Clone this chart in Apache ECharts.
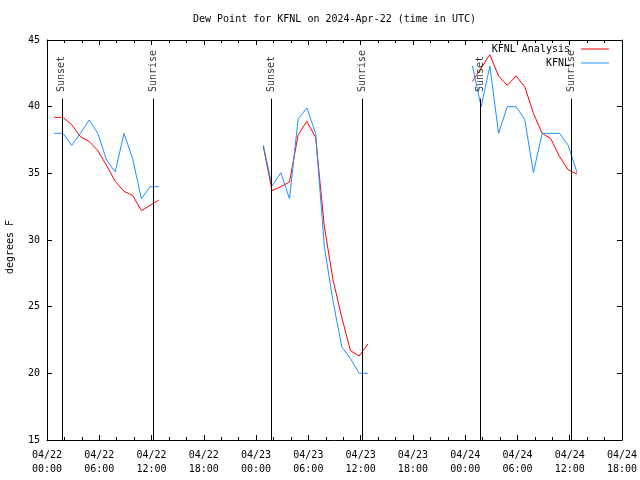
<!DOCTYPE html>
<html><head><meta charset="utf-8">
<script src="https://cdn.jsdelivr.net/npm/echarts@6/dist/echarts.min.js"></script>
<style>html,body{margin:0;padding:0;background:#fff}#c{width:640px;height:480px}</style>
</head><body><div id="c"></div><script>
const titleText = 'Dew Point for KFNL on 2024-Apr-22 (time in UTC)';
const yName = 'degrees F';
const seriesNames = ['KFNL Analysis', 'KFNL'];
const seriesColors = ['#ff0000', '#1e90ff'];

const obsTimes = [
  '04/22 00:50','04/22 01:50','04/22 02:50','04/22 03:50','04/22 04:50','04/22 05:50','04/22 06:50',
  '04/22 07:50','04/22 08:50','04/22 09:50','04/22 10:50','04/22 11:50','04/22 12:50',
  '04/23 00:50','04/23 01:50','04/23 02:50','04/23 03:50','04/23 04:50','04/23 05:50','04/23 06:50',
  '04/23 07:50','04/23 08:50','04/23 09:50','04/23 10:50','04/23 11:50','04/23 12:50',
  '04/24 00:50','04/24 01:50','04/24 02:50','04/24 03:50','04/24 04:50','04/24 05:50','04/24 06:50',
  '04/24 07:50','04/24 08:50','04/24 09:50','04/24 10:50','04/24 11:50','04/24 12:50'
];
const analysis = [
  39.2, 39.2, 38.65, 37.75, 37.4, 36.7, 35.6, 34.4, 33.65, 33.35, 32.2, 32.6, 33.0,
  37.0, 33.7, 34.0, 34.35, 37.9, 38.9, 37.7, 31.0, 27.0, 24.2, 21.7, 21.3, 22.2,
  41.9, 42.9, 43.9, 42.3, 41.6, 42.3, 41.5, 39.5, 38.0, 37.6, 36.25, 35.25, 34.95
];
const observed = [
  38.0, 38.0, 37.1, 38.0, 39.0, 38.0, 36.0, 35.1, 38.0, 36.1, 33.1, 34.0, 34.0,
  37.1, 34.05, 35.05, 33.1, 39.1, 39.9, 38.0, 29.5, 25.4, 22.0, 21.1, 20.0, 20.0,
  43.05, 40.0, 43.05, 38.0, 40.0, 40.0, 39.05, 35.05, 38.0, 38.0, 38.0, 37.1, 35.05
];
const sunTimes = ['04/22 01:42','04/22 12:14','04/23 01:43','04/23 12:12','04/24 01:44','04/24 12:11'];
const sunLabels = ['Sunset','Sunrise','Sunset','Sunrise','Sunset','Sunrise'];
const xTickLabels = ['04/22\n00:00','04/22\n06:00','04/22\n12:00','04/22\n18:00',
  '04/23\n00:00','04/23\n06:00','04/23\n12:00','04/23\n18:00',
  '04/24\n00:00','04/24\n06:00','04/24\n12:00','04/24\n18:00'];
const yMin = 15, yMax = 45, yStep = 5;
const xMin = 0, xMax = 66, xStep = 6;
const sunLineTop = 40.6, sunLabelBase = 41.1;

function toHours(s) {
  const [md, hm] = s.split(' ');
  const day = parseInt(md.split('/')[1], 10);
  const [h, m] = hm.split(':').map(Number);
  return (day - 22) * 24 + h + m / 60;
}
function buildSeries(values) {
  const out = [];
  let prev = null;
  obsTimes.forEach((t, i) => {
    const x = toHours(t);
    if (prev !== null && x - prev > 1.5) out.push([(x + prev) / 2, null]);
    out.push([x, values[i]]);
    prev = x;
  });
  return out;
}
const FONT = 'DejaVu Sans Mono';
const txt = { fontFamily: FONT, fontSize: 10, color: '#000' };
const black = { color: '#000', width: 1 };

const chart = echarts.init(document.getElementById('c'), null, { renderer: 'canvas' });
const xBase = {
  type: 'value', min: xMin, max: xMax, interval: xStep,
  axisLine: { show: true, onZero: false, lineStyle: black },
  axisTick: { show: true, inside: true, length: 5, lineStyle: black },
  minorTick: { show: true, splitNumber: 3, length: 3, lineStyle: black },
  splitLine: { show: false }, minorSplitLine: { show: false }
};
const yBase = {
  type: 'value', min: yMin, max: yMax, interval: yStep,
  axisLine: { show: true, onZero: false, lineStyle: black },
  axisTick: { show: true, inside: true, length: 5, lineStyle: black },
  splitLine: { show: false }
};
chart.setOption({
  animation: false,
  backgroundColor: '#fff',
  title: { text: titleText, left: 193, top: 14, padding: 0,
    textStyle: Object.assign({}, txt, { fontWeight: 'normal' }) },
  grid: { left: 47, right: 18, top: 40, bottom: 40, containLabel: false, outerBoundsMode: 'none' },
  legend: {
    data: seriesNames.map((n, i) => ({ name: n, icon: 'rect', itemStyle: { color: seriesColors[i] } })),
    orient: 'vertical', right: 31, top: 42, align: 'right',
    itemWidth: 28, itemHeight: 1, itemGap: 0, padding: 0,
    formatter: n => n + ' ', textStyle: Object.assign({}, txt, { lineHeight: 14 })
  },
  xAxis: [
    Object.assign({}, xBase, { position: 'bottom',
      axisLabel: Object.assign({}, txt, { margin: 8, lineHeight: 14,
        formatter: v => xTickLabels[Math.round((v - xMin) / xStep)] }) }),
    Object.assign({}, xBase, { position: 'top', axisLabel: { show: false } })
  ],
  yAxis: [
    Object.assign({}, yBase, { position: 'left', name: yName, nameLocation: 'middle', nameGap: 32,
      nameRotate: 90, nameTextStyle: Object.assign({}, txt, { padding: [0, 14, 0, 0] }),
      axisLabel: Object.assign({}, txt, { margin: 7 }) }),
    Object.assign({}, yBase, { position: 'right', axisLabel: { show: false } })
  ],
  series: [
    { name: seriesNames[0], type: 'line', data: buildSeries(analysis), symbol: 'none', showSymbol: false,
      color: seriesColors[0], lineStyle: { width: 1, color: seriesColors[0] }, connectNulls: false, z: 3 },
    { name: seriesNames[1], type: 'line', data: buildSeries(observed), symbol: 'none', showSymbol: false,
      color: seriesColors[1], lineStyle: { width: 1, color: seriesColors[1] }, connectNulls: false, z: 4 },
    { name: 'sun', type: 'scatter', symbolSize: 0, silent: true, z: 5,
      data: sunTimes.map((t, i) => [toHours(t), sunLabelBase, sunLabels[i]]),
      label: { show: true, position: [0, 0], rotate: 90, align: 'left', verticalAlign: 'middle',
        formatter: p => p.data[2], fontFamily: FONT, fontSize: 10, color: '#000' },
      markLine: { silent: true, symbol: 'none', animation: false,
        lineStyle: { color: '#000', width: 1, type: 'solid' }, label: { show: false },
        data: sunTimes.map(t => [{ coord: [toHours(t), yMin] }, { coord: [toHours(t), sunLineTop] }]) }
    }
  ]
});
</script></body></html>
